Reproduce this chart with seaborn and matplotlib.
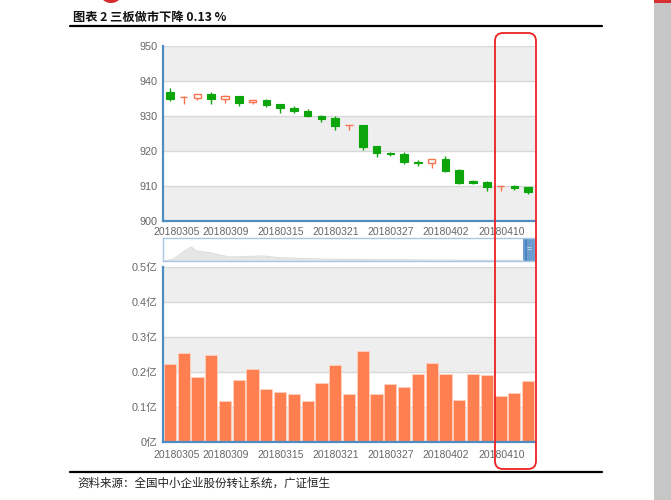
import numpy as np
import pandas as pd
import matplotlib.pyplot as plt
import seaborn as sns
from matplotlib.patches import Rectangle, FancyBboxPatch, Ellipse
from matplotlib.lines import Line2D

# trading days 2018-03-05 .. 2018-04-12
dates = ["20180305", "20180306", "20180307", "20180308", "20180309",
         "20180312", "20180313", "20180314", "20180315", "20180316",
         "20180319", "20180320", "20180321", "20180322", "20180323",
         "20180326", "20180327", "20180328", "20180329", "20180330",
         "20180402", "20180403", "20180404", "20180409", "20180410",
         "20180411", "20180412"]
open_px = [936.9, 935.3, 935.2, 936.2, 935.0, 935.6, 933.9, 934.6, 933.3, 932.4,
           931.5, 930.1, 929.4, 927.3, 927.3, 921.3, 919.5, 919.2, 917.0, 916.6,
           917.7, 914.7, 911.4, 911.2, 909.9, 910.1, 909.7]
close_px = [934.8, 935.5, 936.2, 935.0, 935.8, 933.7, 934.6, 933.1, 932.3, 931.5,
            930.1, 929.2, 927.1, 927.5, 921.1, 919.3, 919.2, 917.0, 916.5, 917.7,
            914.3, 911.0, 910.8, 909.7, 910.1, 909.5, 908.2]
high_px = [937.9, 935.8, 936.3, 936.9, 936.0, 935.7, 934.7, 935.0, 933.4, 932.8,
           931.9, 930.2, 929.9, 927.5, 927.4, 921.4, 919.7, 919.6, 917.3, 917.8,
           918.7, 914.8, 911.8, 911.3, 910.1, 910.4, 909.8]
low_px = [934.2, 933.3, 934.7, 933.5, 933.7, 932.9, 933.3, 932.5, 931.0, 931.0,
          929.7, 928.4, 926.1, 926.1, 920.2, 918.3, 918.6, 916.4, 915.6, 915.2,
          913.9, 910.5, 910.5, 908.5, 908.7, 909.0, 907.6]
# turnover, 亿元
volume = [0.224, 0.254, 0.187, 0.249, 0.117, 0.178, 0.210, 0.151, 0.143, 0.136,
          0.117, 0.169, 0.220, 0.136, 0.261, 0.136, 0.165, 0.156, 0.195, 0.227,
          0.193, 0.119, 0.195, 0.191, 0.131, 0.141, 0.175]
label_idx = [0, 4, 8, 12, 16, 20, 24]

# datazoom preview outline (position along slider, height in px)
preview_pos = [0.0, 0.027, 0.045, 0.058, 0.076, 0.09, 0.103, 0.126, 0.152, 0.179,
               0.269, 0.314, 0.359, 0.448, 0.628, 0.807, 0.969]
preview_h = [0, 1.7, 6.7, 10, 14, 10, 9.3, 8.3, 6, 4, 5, 3.3, 2.7, 1.7, 1.3, 0.7, 0.7]

W, H = 671, 500
sns.set_style("white")
plt.rcParams['font.family'] = ['Liberation Sans', 'Noto Sans CJK SC', 'DejaVu Sans']

AXIS_BLUE = '#4f8cc4'
GREEN = '#0ca50c'
RED = '#fb7350'
TXT = '#666666'


def fx(x):
    return x / W


def fy(y):
    return 1 - y / H


df = pd.DataFrame({"date": dates, "open": open_px, "close": close_px,
                   "high": high_px, "low": low_px, "volume": volume})
n = len(df)
xs = np.arange(n)

fig = plt.figure(figsize=(W / 100, H / 100), dpi=100)

ax1 = fig.add_axes([fx(163), fy(221), fx(535) - fx(163), fy(46) - fy(221)])
ax3 = fig.add_axes([fx(163), fy(442), fx(535) - fx(163), fy(267) - fy(442)])
ax2 = fig.add_axes([fx(163), fy(261), fx(535) - fx(163), fy(238) - fy(261)])


def style_axis(ax, yticks, ylabels, lo, hi, xpad):
    ax.set_xlim(-0.5, n - 0.5)
    ax.set_ylim(lo, hi)
    step = yticks[1] - yticks[0]
    for k, t in enumerate(yticks[:-1]):
        if k % 2 == 0:
            ax.axhspan(t, t + step, color='#eeeeee', zorder=0, lw=0)
    for t in yticks[1:]:
        ax.axhline(t, color='#d8d8d8', lw=1, zorder=0.5)
    ax.set_yticks(yticks)
    ax.set_yticklabels(ylabels, fontsize=7.8, color=TXT)
    ax.tick_params(axis='y', length=0, pad=4)
    # ticks at category boundaries, labels on minor ticks
    ax.xaxis.remove_overlapping_locs = False
    ax.set_xticks([-0.5] + [i + 0.5 for i in label_idx])
    ax.set_xticklabels([])
    ax.tick_params(axis='x', which='major', length=4, width=1, color=AXIS_BLUE, direction='out')
    lab_pos = [0.5] + [i + 0.05 for i in label_idx[1:]]
    ax.set_xticks(lab_pos, minor=True)
    ax.set_xticklabels([dates[i] for i in label_idx], minor=True, fontsize=7.5, color=TXT)
    ax.tick_params(axis='x', which='minor', length=0, pad=xpad)
    for s in ['top', 'right']:
        ax.spines[s].set_visible(False)
    for s in ['left', 'bottom']:
        ax.spines[s].set_color(AXIS_BLUE)
        ax.spines[s].set_linewidth(1.6)
    ax.set_xlabel('')
    ax.set_ylabel('')
    ax.set_facecolor('white')


# candlesticks
style_axis(ax1, [900, 910, 920, 930, 940, 950], ['900', '910', '920', '930', '940', '950'],
           900, 950, 4.5)
up = df['close'] >= df['open']
ax1.vlines(xs[~up], df['low'][~up], df['high'][~up], color=GREEN, lw=1, zorder=2)
ax1.vlines(xs[up], df['low'][up], df['high'][up], color=RED, lw=1, zorder=2)
body_lo = np.minimum(df['open'], df['close'])
body_h = np.maximum(np.abs(df['close'] - df['open']), 0.15)
ax1.bar(xs[~up], body_h[~up], bottom=body_lo[~up], width=0.55,
        color=GREEN, edgecolor=GREEN, lw=0.8, zorder=3)
ax1.bar(xs[up], body_h[up], bottom=body_lo[up], width=0.55,
        color='white', edgecolor=RED, lw=1, zorder=3)

# volume bars
sns.barplot(data=df, x='date', y='volume', ax=ax3, color='#ff7f50', saturation=1,
            width=0.88, edgecolor='#ffd2c0', linewidth=0.6, zorder=2)
style_axis(ax3, [0, 0.1, 0.2, 0.3, 0.4, 0.5], ['0亿', '0.1亿', '0.2亿', '0.3亿', '0.4亿', '0.5亿'],
           0, 0.5, 5.5)

# datazoom slider
ax2.set_xlim(0, 1)
ax2.set_ylim(0, 23)
ax2.fill_between(preview_pos, preview_h, color='#e6e6e6', lw=0)
ax2.plot(preview_pos, preview_h, color='#dcdcdc', lw=0.8)
ax2.add_patch(Rectangle((0.968, 0), 0.032, 23, color='#6b9dd1', lw=0))
ax2.add_patch(Rectangle((0.972, 0), 0.006, 23, color='#4f86c0', lw=0))
ax2.text(0.985, 11.5, '=', color='white', fontsize=6, ha='center', va='center')
ax2.set_xticks([])
ax2.set_yticks([])
for s in ax2.spines.values():
    s.set_color('#a9c6e3')
    s.set_linewidth(1)

# page decoration
cjk = ['Noto Sans CJK SC', 'DejaVu Sans']
fig.text(fx(73), fy(17), '图表 2 三板做市下降 0.13 %', fontsize=8.8, fontweight='bold',
         family=cjk, va='center', ha='left', color='#111111')
fig.add_artist(Line2D([fx(70), fx(602)], [fy(26), fy(26)], color='black', lw=1.6))
fig.add_artist(Line2D([fx(70), fx(602)], [fy(472), fy(472)], color='black', lw=1.6))
fig.text(fx(77), fy(483), '资料来源：全国中小企业股份转让系统，广证恒生', fontsize=8.3,
         family=cjk, va='center', ha='left', color='#222222')
fig.add_artist(Rectangle((fx(654), 0), fx(671) - fx(654), 1, color='#c6c6c6', lw=0))
fig.add_artist(Rectangle((fx(654), fy(3)), fx(671) - fx(654), fy(0) - fy(3), color='#d83030', lw=0))
fig.add_artist(Ellipse((fx(111), fy(-7)), fx(22), 20 / H, color='#d42a2a', lw=0))
fig.add_artist(FancyBboxPatch((fx(495), fy(469)), fx(536) - fx(495), fy(33) - fy(469),
                              boxstyle='round,pad=0,rounding_size=0.012',
                              mutation_aspect=W / H, fill=False, edgecolor='#ee2222', lw=1.3))

fig.savefig('out.png', dpi=100)
plt.close(fig)
